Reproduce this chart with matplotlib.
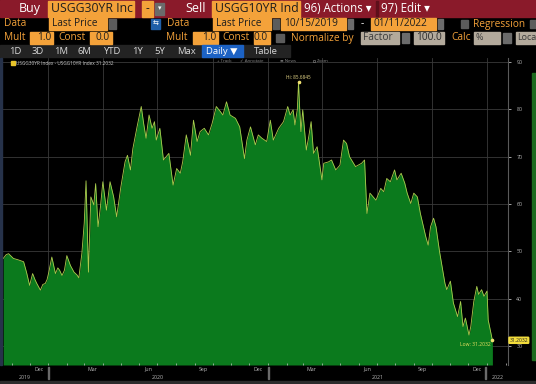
import numpy as np
import matplotlib.pyplot as plt
import matplotlib.dates as mdates
from matplotlib.patches import Rectangle
from matplotlib.lines import Line2D

# spread USGG30YR - USGG10YR (bp)
start_date = np.datetime64("2019-10-15")
day_offset = [3, 8, 12, 16, 20, 28, 37, 42, 47, 52, 56, 59, 65, 69, 73, 76, 79, 84, 90, 94,
              97, 101, 105, 109, 115, 121, 126, 129, 134, 138, 141, 143, 145, 149, 154, 157, 161, 165, 169, 175,
              181, 187, 192, 199, 206, 210, 215, 219, 226, 233, 237, 241, 246, 251, 255, 258, 264, 270, 279, 286,
              292, 298, 302, 308, 315, 320, 326, 331, 338, 345, 351, 358, 365, 369, 375, 381, 390, 397, 405, 409,
              415, 423, 428, 434, 442, 448, 453, 462, 470, 477, 481, 486, 489, 493, 495, 497, 499, 502, 508, 512,
              516, 520, 526, 534, 537, 545, 550, 557, 564, 570, 575, 580, 590, 600, 605, 609, 614, 624, 632, 637,
              642, 648, 655, 659, 666, 672, 676, 682, 687, 693, 698, 707, 711, 715, 720, 724, 730, 735, 739, 742,
              748, 753, 760, 765, 769, 773, 779, 782, 787, 792, 795, 800, 804, 809, 811, 818]
spread = [48.5, 49.3, 49.5, 49.0, 48.5, 48.2, 47.8, 45.5, 42.8, 45.3, 44.0, 43.2, 41.8, 43.0, 43.2, 44.0, 45.6, 48.8, 45.3, 46.5,
          46.0, 44.9, 46.0, 49.1, 47.0, 45.6, 45.0, 44.4, 49.5, 56.0, 64.9, 55.0, 45.6, 61.5, 59.8, 64.3, 55.2, 59.4, 64.7, 58.7,
          64.7, 61.5, 57.3, 63.6, 68.9, 70.3, 67.2, 71.7, 76.3, 80.6, 77.0, 73.9, 78.8, 76.0, 77.4, 73.5, 76.0, 69.3, 70.7, 64.0,
          67.5, 66.5, 68.9, 74.6, 70.3, 77.7, 73.2, 75.3, 76.0, 74.6, 77.0, 80.6, 79.5, 78.8, 81.6, 78.8, 78.1, 76.3, 69.6, 73.5,
          76.3, 72.5, 74.6, 73.9, 73.2, 77.7, 73.5, 76.0, 77.4, 80.6, 78.8, 79.9, 76.7, 80.0, 85.6845, 80.0, 75.3, 79.9, 71.4, 74.2,
          77.4, 70.7, 72.1, 65.1, 68.6, 68.9, 69.3, 67.2, 68.2, 73.5, 72.8, 70.0, 67.9, 68.6, 69.3, 58.0, 62.3, 60.8, 63.3, 62.6,
          65.4, 64.7, 67.2, 65.1, 66.5, 64.4, 62.3, 60.1, 62.3, 61.5, 58.0, 53.1, 51.3, 55.2, 57.0, 55.2, 49.9, 46.1, 43.2, 41.9,
          43.7, 39.1, 36.2, 39.4, 34.1, 35.9, 32.3, 34.1, 39.4, 42.6, 40.9, 41.9, 40.5, 41.6, 35.5, 31.2032]

y_ticks = [30, 40, 50, 60, 70, 80, 90]
month_ticks = ["2019-12-17", "2020-03-15", "2020-06-15", "2020-09-15", "2020-12-15",
               "2021-03-15", "2021-06-15", "2021-09-15", "2021-12-15"]
month_labels = ["Dec", "Mar", "Jun", "Sep", "Dec", "Mar", "Jun", "Sep", "Dec"]
quarter_starts = ["2020-01-01", "2020-04-01", "2020-07-01", "2020-10-01", "2021-01-01",
                  "2021-04-01", "2021-07-01", "2021-10-01", "2022-01-01"]
year_labels = ["2019", "2020", "2021", "2022"]
year_centers = ["2019-11-23", "2020-07-02", "2021-07-03", "2022-01-19"]

W, H = 536, 384
fig = plt.figure(figsize=(W / 100, H / 100), dpi=100, facecolor="black")
plt.rcParams["font.family"] = ["Open Sans", "DejaVu Sans"]

ORANGE = "#f4a23a"
GRAY_BOX = "#b3aa9c"
RED = "#8a1a2a"


def box(x0, y0, x1, y1, color, z=1):
    fig.patches.append(Rectangle((x0 / W, 1 - y1 / H), (x1 - x0) / W, (y1 - y0) / H,
                                 transform=fig.transFigure, color=color, zorder=z))


def txt(x, y, s, size=7.5, color="white", ha="left", **kw):
    fig.text(x / W, 1 - y / H, s, fontsize=size, color=color, ha=ha, va="center", zorder=5, **kw)


# ---- row 1
box(0, 0, W, 17, RED)
txt(30, 8.5, "Buy", 9, ha="center")
box(48, 1, 134, 17, ORANGE, 2)
txt(51, 9, "USGG30YR Inc", 8.8, "#1d1d1d")
box(142, 1, 153, 17, ORANGE, 2)
txt(147.5, 8.5, "-", 8.5, "#1d1d1d", ha="center")
box(155, 3, 164, 15, "#6b6b6b", 2)
txt(159.5, 9, "▾", 5, ha="center")
txt(196, 8.5, "Sell", 9, ha="center")
box(212, 1, 300, 17, ORANGE, 2)
txt(215, 9, "USGG10YR Ind", 8.8, "#1d1d1d")
txt(304, 9, "96) Actions ▾", 8.3)
box(376, 1, 378, 17, "#5e0f1a", 2)
txt(381, 9, "97) Edit ▾", 8.3)

# ---- row 2
txt(4, 24, "Data", 7.3, ORANGE)
box(49, 18, 107, 30, ORANGE, 2)
txt(52, 24, "Last Price", 7.3, "#1d1d1d")
box(109, 19, 116, 29, "#5c5c5c", 2)
box(151, 19, 160, 29, "#1f5fa8", 2)
txt(155.5, 24, "⇆", 5, ha="center")
txt(167, 24, "Data", 7.3, ORANGE)
box(213, 18, 271, 30, ORANGE, 2)
txt(216, 24, "Last Price", 7.3, "#1d1d1d")
box(273, 19, 279, 29, "#5c5c5c", 2)
box(281, 18, 346, 30, ORANGE, 2)
txt(284, 24, "10/15/2019", 7.3, "#1d1d1d")
box(348, 19, 353, 29, "#6b6b6b", 2)
txt(362, 24, "-", 7.3, ha="center")
box(371, 18, 436, 30, ORANGE, 2)
txt(374, 24, "01/11/2022", 7.3, "#1d1d1d")
box(438, 19, 443, 29, "#6b6b6b", 2)
box(461, 20, 468, 28, "#5c5c5c", 2)
txt(473, 24, "Regression", 7.3, ORANGE)
box(530, 20, 536, 28, "#5c5c5c", 2)

# ---- row 3
txt(4, 38, "Mult", 7.3, ORANGE)
box(30, 32, 53, 44, ORANGE, 2)
txt(51, 38, "1.0", 7.3, "#1d1d1d", ha="right")
txt(58, 38, "Const", 7.3, ORANGE)
box(90, 32, 112, 44, ORANGE, 2)
txt(110, 38, "0.0", 7.3, "#1d1d1d", ha="right")
txt(166, 38, "Mult", 7.3, ORANGE)
box(193, 32, 218, 44, ORANGE, 2)
txt(216, 38, "1.0", 7.3, "#1d1d1d", ha="right")
txt(222, 38, "Const", 7.3, ORANGE)
box(254, 32, 270, 44, ORANGE, 2)
txt(268, 38, "0.0", 7.3, "#1d1d1d", ha="right")
box(276, 34, 284, 42, "#5c5c5c", 2)
txt(291, 38, "Normalize by", 7.3, ORANGE)
box(361, 32, 399, 44, GRAY_BOX, 2)
txt(363, 38, "Factor", 7.3, "#3a3a3a")
box(402, 33, 409, 43, "#6b6b6b", 2)
box(414, 32, 444, 44, GRAY_BOX, 2)
txt(442, 38, "100.0", 7.3, "#2a2a2a", ha="right")
txt(451, 38, "Calc", 7.3, ORANGE)
box(474, 32, 500, 44, GRAY_BOX, 2)
txt(476, 38, "%", 6.5, "#3a3a3a")
box(503, 33, 511, 43, "#6b6b6b", 2)
box(516, 32, 536, 44, GRAY_BOX, 2)
txt(517, 38, "Loca", 6.4, "#3a3a3a")

# ---- row 4
box(0, 45, 290, 57, "#232323")
for bx, lab in zip([15, 38, 61, 84, 112, 137, 160, 186, 266],
                   ["1D", "3D", "1M", "6M", "YTD", "1Y", "5Y", "Max", "Table"]):
    txt(bx, 51, lab, 6.8, "#d8d8d8", ha="center")
box(202, 45, 243, 57, "#1c62c4", 2)
txt(222, 51, "Daily ▼", 6.8, ha="center")

# ---- chart area
ax = fig.add_axes([2 / W, (H - 365) / H, 506 / W, 307 / H])
ax.set_facecolor("black")
dates = start_date + np.array(day_offset).astype("timedelta64[D]")
ybot = 25.98
ax.set_ylim(ybot, 90.85)
ax.set_xlim(np.datetime64("2019-10-16"), np.datetime64("2022-02-05"))

for q in quarter_starts:
    ax.axvline(np.datetime64(q), color="#3a3a3a", lw=0.6, zorder=0)
for yv in y_ticks:
    ax.axhline(yv, color="#3a3a3a", lw=0.6, zorder=0)

ax.fill_between(dates, spread, ybot, color="#0b7a1d", lw=0, zorder=1)
ax.plot(dates, spread, color="#aecb4e", lw=0.6, zorder=2)

# high / last annotations
i_hi = int(np.argmax(spread))
ax.plot(dates[i_hi], spread[i_hi], "o", ms=1.6, color="#f0e070", zorder=3)
ax.annotate(f"Hi: {spread[i_hi]:.4f}", (dates[i_hi], spread[i_hi]), xytext=(0, 1.5),
            textcoords="offset points", ha="center", va="bottom", fontsize=3.4, color="#e8d98a")
ax.plot(dates[-1], spread[-1], "o", ms=1.6, color="#f0e070", zorder=3)
ax.annotate(f"Low: {spread[-1]:.4f}", (dates[-1], spread[-1]), xytext=(-1, -1.5),
            textcoords="offset points", ha="right", va="top", fontsize=3.6, color="#e8e060")
ax.text(1.003, spread[-1], f"{spread[-1]:.4f}", transform=ax.get_yaxis_transform(),
        fontsize=3.6, color="#222", va="center", ha="left",
        bbox=dict(boxstyle="round,pad=0.25", fc="#f2dc3c", ec="none"), clip_on=False)

for s in ["top", "left", "bottom"]:
    ax.spines[s].set_visible(False)
ax.spines["right"].set_color("#5a5a5a")
ax.spines["right"].set_linewidth(0.8)

ax.yaxis.tick_right()
ax.set_yticks(y_ticks)
ax.set_yticklabels([str(v) for v in y_ticks])
ax.tick_params(axis="y", labelsize=3.8, labelcolor="#b8b8b8", color="#bbbbbb", length=2, width=0.6, pad=4)

ax.set_xticks([np.datetime64(m) for m in month_ticks])
ax.set_xticklabels(month_labels)
ax.xaxis.set_minor_locator(mdates.MonthLocator())
ax.tick_params(axis="x", which="major", length=0, labelsize=3.8, labelcolor="#b8b8b8", pad=1.2)
ax.tick_params(axis="x", which="minor", direction="in", length=1.5, width=0.5, color="#c8c8c8")

for yc, yl in zip(year_centers, year_labels):
    ax.text(np.datetime64(yc), -0.04, yl, transform=ax.get_xaxis_transform(),
            fontsize=3.8, color="#b8b8b8", ha="center", va="center", clip_on=False)

for sx in [48, 268, 485]:
    box(sx, 367, sx + 0.8, 379, "#6a6a6a", 3)
box(0, 381, W, 382.5, "#2c2c2c")
box(0, 58, 1.5, 365, "#26324a", 3)
box(532, 73, W, 360, "#1c6a1e")

# legend and toolbar
box(11, 61.5, 14.5, 65, "#e8c42a", 3)
txt(16, 63.3, "USGG30YR Index - USGG10YR Index 31.2032", 3.4, "#c8c8c8")
TOOL = "#8a8a8a"
txt(217, 61.5, "+ Track", 3.2, TOOL)
txt(240, 61.5, "✓ Annotate", 3.2, TOOL)
txt(280, 61.5, "≡ News", 3.2, TOOL)
# small magnifier glyph for the zoom tool
fig.add_artist(Line2D([313.5 / W], [1 - 61.2 / H], marker="o", ms=1.8, mew=0.4,
                      mfc="none", mec=TOOL, transform=fig.transFigure))
txt(317, 61.5, "Zoom", 3.2, TOOL)

fig.savefig("out.png", dpi=100, facecolor="black")
